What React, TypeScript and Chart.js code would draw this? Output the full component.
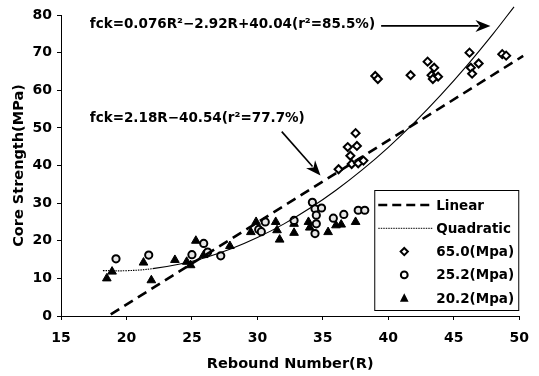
import React, { useEffect, useRef } from "react";
import { Chart, registerables } from "chart.js";

Chart.register(...registerables);

const FONT = "'DejaVu Sans', 'Liberation Sans', Arial, sans-serif";

// Axis ticks
const xTickValues = [15, 20, 25, 30, 35, 40, 45, 50];
const yTickValues = [0, 10, 20, 30, 40, 50, 60, 70, 80];

// Regression lines
const linearR = [18.8, 50.3];
const linearStrength = [0.44, 69.11];

const quadraticR = [18.2, 20, 22, 24, 26, 28, 30, 32, 34, 36, 38, 40, 42, 44, 46, 48, 49.6];
const quadraticStrength = [12.07, 12.04, 12.58, 13.74, 15.5, 17.86, 20.84, 24.42, 28.62, 33.42, 38.82, 44.84, 51.46, 58.7, 66.54, 74.98, 82.18];

// 65.0 MPa specimens (diamonds)
const r650 = [36.2, 36.9, 37.5, 37.6, 37.1, 37.2, 37.7, 38.1, 39.0, 39.2, 41.7, 43.0, 43.5, 43.3, 43.8, 43.4, 46.2, 46.3, 46.9, 46.4, 48.7, 49.0];
const s650 = [39.0, 44.9, 48.6, 45.2, 42.6, 40.4, 40.6, 41.3, 63.8, 63.0, 64.0, 67.6, 66.0, 64.0, 63.6, 63.0, 70.0, 66.0, 67.1, 64.4, 69.6, 69.2];

// 25.2 MPa specimens (circles)
const r252 = [19.2, 21.7, 25.0, 25.9, 26.2, 27.2, 30.1, 30.3, 30.6, 32.8, 34.2, 34.4, 34.9, 34.5, 34.5, 34.4, 35.8, 36.6, 37.7, 38.2];
const s252 = [15.2, 16.2, 16.3, 19.3, 17.0, 16.0, 23.0, 22.4, 25.0, 25.4, 30.2, 28.5, 28.7, 26.8, 24.5, 21.9, 26.0, 27.0, 28.1, 28.1];

// 20.2 MPa specimens (triangles)
const r202 = [18.5, 18.9, 21.3, 21.9, 23.7, 24.6, 24.9, 25.3, 25.9, 27.9, 29.5, 29.9, 31.4, 31.5, 31.7, 32.8, 32.8, 33.9, 34.0, 35.4, 36.0, 36.4, 37.5];
const s202 = [10.0, 11.8, 14.2, 9.5, 14.9, 14.4, 13.5, 20.0, 16.2, 18.6, 22.3, 25.0, 25.0, 22.8, 20.3, 24.5, 22.1, 25.0, 23.5, 22.3, 24.1, 24.3, 25.0];

const legendLabels = ["Linear", "Quadratic", "65.0(Mpa)", "25.2(Mpa)", "20.2(Mpa)"];

const quadraticLabel = "fck=0.076R²−2.92R+40.04(r²=85.5%)";
const linearLabel = "fck=2.18R−40.54(r²=77.7%)";
// annotation anchors in data units [R, strength]
const quadraticLabelAt = [17.2, 77.4];
const quadraticArrow = [[39.45, 77.1], [47.8, 77.1]];
const linearLabelAt = [17.2, 52.45];
const linearArrow = [[31.86, 49.0], [34.82, 37.35]];

const toPoints = (xs: number[], ys: number[]) => xs.map((x, i) => ({ x, y: ys[i] }));

function drawArrow(ctx: CanvasRenderingContext2D, x1: number, y1: number, x2: number, y2: number) {
  const ang = Math.atan2(y2 - y1, x2 - x1);
  const len = 15;
  const half = 6;
  ctx.beginPath();
  ctx.moveTo(x1, y1);
  ctx.lineTo(x2 - Math.cos(ang) * len * 0.8, y2 - Math.sin(ang) * len * 0.8);
  ctx.lineWidth = 1.6;
  ctx.strokeStyle = "#000";
  ctx.stroke();
  ctx.beginPath();
  ctx.moveTo(x2, y2);
  ctx.lineTo(x2 - Math.cos(ang) * len + Math.sin(ang) * half, y2 - Math.sin(ang) * len - Math.cos(ang) * half);
  ctx.lineTo(x2 - Math.cos(ang) * len * 0.7, y2 - Math.sin(ang) * len * 0.7);
  ctx.lineTo(x2 - Math.cos(ang) * len - Math.sin(ang) * half, y2 - Math.sin(ang) * len + Math.cos(ang) * half);
  ctx.closePath();
  ctx.fillStyle = "#000";
  ctx.fill();
}

function drawMarker(ctx: CanvasRenderingContext2D, kind: string, cx: number, cy: number) {
  ctx.save();
  ctx.strokeStyle = "#000";
  ctx.fillStyle = "#fff";
  ctx.lineWidth = 2;
  ctx.beginPath();
  if (kind === "diamond") {
    const r = 3.6;
    ctx.moveTo(cx, cy - r);
    ctx.lineTo(cx + r, cy);
    ctx.lineTo(cx, cy + r);
    ctx.lineTo(cx - r, cy);
    ctx.closePath();
    ctx.fill();
    ctx.stroke();
  } else if (kind === "circle") {
    ctx.arc(cx, cy, 3.4, 0, Math.PI * 2);
    ctx.fill();
    ctx.stroke();
  } else {
    const r = 5;
    ctx.moveTo(cx, cy - r);
    ctx.lineTo(cx + r * 0.866, cy + r * 0.5 + 1);
    ctx.lineTo(cx - r * 0.866, cy + r * 0.5 + 1);
    ctx.closePath();
    ctx.fillStyle = "#000";
    ctx.fill();
  }
  ctx.restore();
}

const annotationPlugin = {
  id: "fitAnnotations",
  afterDatasetsDraw(chart: any) {
    const { ctx } = chart;
    const xs = chart.scales.x;
    const ys = chart.scales.y;
    const px = (p: number[]) => [xs.getPixelForValue(p[0]), ys.getPixelForValue(p[1])];
    ctx.save();
    ctx.fillStyle = "#000";
    ctx.font = `bold 13.5px ${FONT}`;
    ctx.textBaseline = "middle";
    ctx.textAlign = "left";
    const a = px(quadraticLabelAt);
    ctx.fillText(quadraticLabel, a[0], a[1]);
    const b = px(linearLabelAt);
    ctx.fillText(linearLabel, b[0], b[1]);
    const q1 = px(quadraticArrow[0]);
    const q2 = px(quadraticArrow[1]);
    drawArrow(ctx, q1[0], q1[1], q2[0], q2[1]);
    const l1 = px(linearArrow[0]);
    const l2 = px(linearArrow[1]);
    drawArrow(ctx, l1[0], l1[1], l2[0], l2[1]);
    ctx.restore();
  },
};

const legendPlugin = {
  id: "boxLegend",
  afterDraw(chart: any) {
    const { ctx, chartArea } = chart;
    const w = 145;
    const h = 121;
    const right = chartArea.right;
    const bottom = chartArea.bottom - 5;
    const left = right - w;
    const top = bottom - h;
    ctx.save();
    ctx.fillStyle = "#fff";
    ctx.fillRect(left, top, w, h);
    ctx.strokeStyle = "#000";
    ctx.lineWidth = 1;
    ctx.strokeRect(left + 0.5, top + 0.5, w - 1, h - 1);
    const rowH = 23.3;
    const firstY = top + 15;
    ctx.font = `bold 13.5px ${FONT}`;
    ctx.textBaseline = "middle";
    ctx.textAlign = "left";
    ctx.fillStyle = "#000";
    legendLabels.forEach((label, i) => {
      const cy = firstY + i * rowH;
      const sx = left + 4;
      const ex = left + 59;
      if (i === 0) {
        ctx.save();
        ctx.setLineDash([9, 5]);
        ctx.lineWidth = 2.5;
        ctx.beginPath();
        ctx.moveTo(sx, cy);
        ctx.lineTo(ex, cy);
        ctx.stroke();
        ctx.restore();
      } else if (i === 1) {
        ctx.save();
        ctx.setLineDash([1.5, 1]);
        ctx.lineWidth = 1;
        ctx.beginPath();
        ctx.moveTo(sx, cy);
        ctx.lineTo(ex, cy);
        ctx.stroke();
        ctx.restore();
      } else {
        const kinds = ["", "", "diamond", "circle", "triangle"];
        drawMarker(ctx, kinds[i], left + 30, cy);
      }
      ctx.fillStyle = "#000";
      ctx.fillText(label, left + 62, cy + 1);
    });
    ctx.restore();
  },
};

export default function App() {
  const canvasRef = useRef<HTMLCanvasElement | null>(null);

  useEffect(() => {
    document.body.style.margin = "0";
    const canvas = canvasRef.current;
    if (!canvas) return;
    const chart = new Chart(canvas, {
      type: "scatter",
      data: {
        datasets: [
          {
            label: "Linear",
            data: toPoints(linearR, linearStrength),
            showLine: true,
            borderColor: "#000",
            borderWidth: 2.6,
            borderDash: [10, 6],
            pointRadius: 0,
            clip: false,
          },
          {
            label: "Quadratic",
            data: toPoints(quadraticR, quadraticStrength),
            showLine: true,
            borderColor: "#000",
            borderWidth: 1.1,
            borderDash: [1.5, 1],
            tension: 0.4,
            pointRadius: 0,
            clip: false,
            segment: {
              borderDash: (c: any) => (c.p0.parsed.x < 21 ? [1.5, 1] : []),
            },
          },
          {
            label: "65.0(Mpa)",
            data: toPoints(r650, s650),
            pointStyle: "rectRot",
            pointRadius: 4,
            pointBorderWidth: 2,
            borderColor: "#000",
            backgroundColor: "#fff",
          },
          {
            label: "25.2(Mpa)",
            data: toPoints(r252, s252),
            pointStyle: "circle",
            pointRadius: 3.6,
            pointBorderWidth: 2,
            borderColor: "#000",
            backgroundColor: "#e6e6e6",
          },
          {
            label: "20.2(Mpa)",
            data: toPoints(r202, s202),
            pointStyle: "triangle",
            pointRadius: 5,
            pointBorderWidth: 1,
            borderColor: "#000",
            backgroundColor: "#000",
          },
        ] as any,
      },
      options: {
        responsive: false,
        animation: false,
        layout: { padding: { top: 15, right: 16, left: 0, bottom: 0 } },
        plugins: {
          legend: { display: false },
          tooltip: { enabled: false },
        },
        scales: {
          x: {
            type: "linear",
            min: 15,
            max: 50,
            afterFit: (s: any) => {
              s.height = 60;
            },
            afterBuildTicks: (s: any) => {
              s.ticks = xTickValues.map((v) => ({ value: v }));
            },
            ticks: {
              color: "#000",
              font: { family: FONT, size: 14, weight: "bold" },
              padding: 10,
              maxRotation: 0,
              autoSkip: false,
            },
            grid: { drawOnChartArea: false, drawTicks: true, tickLength: 4, color: "#000" },
            border: { display: true, color: "#000", width: 1 },
            title: {
              display: true,
              text: "Rebound Number(R)",
              color: "#000",
              font: { family: FONT, size: 14.5, weight: "bold" },
              padding: { top: 0, bottom: 3 },
            },
          },
          y: {
            type: "linear",
            min: 0,
            max: 80,
            afterFit: (s: any) => {
              s.width = 61;
            },
            afterBuildTicks: (s: any) => {
              s.ticks = yTickValues.map((v) => ({ value: v }));
            },
            ticks: {
              color: "#000",
              font: { family: FONT, size: 14, weight: "bold" },
              padding: 5,
              autoSkip: false,
            },
            grid: { drawOnChartArea: false, drawTicks: true, tickLength: 4, color: "#000" },
            border: { display: true, color: "#000", width: 1 },
            title: {
              display: true,
              text: "Core Strength(MPa)",
              color: "#000",
              font: { family: FONT, size: 14.5, weight: "bold" },
              padding: { top: 11, bottom: 0 },
            },
          },
        },
      },
      plugins: [annotationPlugin, legendPlugin],
    } as any);
    return () => chart.destroy();
  }, []);

  return (
    <div style={{ width: 539, height: 376, background: "#fff" }}>
      <canvas ref={canvasRef} width={539} height={376} style={{ display: "block", width: 539, height: 376 }} />
    </div>
  );
}
